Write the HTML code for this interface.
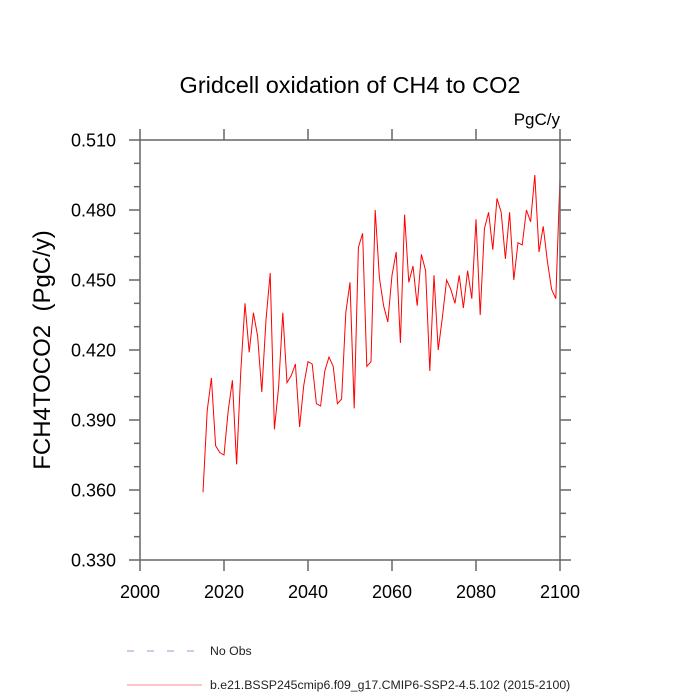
<!DOCTYPE html>
<html><head><meta charset="utf-8"><style>
body{margin:0;background:#fff}
svg{display:block;font-family:"Liberation Sans",sans-serif}
</style></head><body>
<svg id="chart" width="700" height="700">
<text x="350" y="93" text-anchor="middle" font-size="23.5">Gridcell oxidation of CH4 to CO2</text>
<text x="560" y="125" text-anchor="end" font-size="17">PgC/y</text>
<text transform="translate(50,350) rotate(-90)" text-anchor="middle" font-size="24" xml:space="preserve">FCH4TOCO2  (PgC/y)</text>
<g id="ticks"></g>
<g id="series"></g>
<rect x="140" y="140" width="420" height="420" fill="none" stroke="#666" stroke-width="1.5"/>
<line x1="127" y1="651" x2="199" y2="651" stroke="#99c" stroke-dasharray="7,13"/>
<text x="210" y="655" font-size="12.3" fill="#222">No Obs</text>
<line x1="127" y1="685" x2="202" y2="685" stroke="#f88"/>
<text x="210" y="689" font-size="12.3" fill="#222">b.e21.BSSP245cmip6.f09_g17.CMIP6-SSP2-4.5.102 (2015-2100)</text>
</svg>
<script>
const years = [];
for (let y = 2015; y <= 2100; y++) years.push(y);
const values = [0.359,0.394,0.408,0.379,0.376,0.375,0.394,0.407,0.371,0.411,
0.440,0.419,0.436,0.426,0.402,0.433,0.453,0.386,0.404,0.436,
0.406,0.409,0.414,0.387,0.405,0.415,0.414,0.397,0.396,0.411,
0.417,0.413,0.397,0.399,0.436,0.449,0.395,0.464,0.470,0.413,
0.415,0.480,0.451,0.439,0.432,0.452,0.462,0.423,0.478,0.449,
0.456,0.439,0.461,0.454,0.411,0.452,0.420,0.434,0.450,0.446,
0.440,0.452,0.438,0.454,0.442,0.476,0.435,0.472,0.479,0.463,
0.485,0.479,0.459,0.479,0.450,0.466,0.465,0.480,0.475,0.495,
0.462,0.473,0.458,0.446,0.442,0.494];
const xTicks = [2000,2020,2040,2060,2080,2100];
const yTicks = [0.330,0.360,0.390,0.420,0.450,0.480,0.510];
const xMin=2000,xMax=2100,yMin=0.330,yMax=0.510;
const L=140,R=560,T=140,B=560;
const sx=v=>L+(v-xMin)/(xMax-xMin)*(R-L);
const sy=v=>B-(v-yMin)/(yMax-yMin)*(B-T);
const NS="http://www.w3.org/2000/svg";
const tg=document.getElementById('ticks');
function ln(x1,y1,x2,y2,name){const l=document.createElementNS(NS,'line');
l.setAttribute('x1',x1);l.setAttribute('y1',y1);l.setAttribute('x2',x2);l.setAttribute('y2',y2);
l.setAttribute('stroke','#666');l.setAttribute('stroke-width','1.5');


tg.appendChild(l);}
function tx(x,y,s,anchor,name){const t=document.createElementNS(NS,'text');
t.setAttribute('x',x);t.setAttribute('y',y);t.setAttribute('text-anchor',anchor);t.setAttribute('font-size','18');t.textContent=s;


tg.appendChild(t);}
xTicks.forEach(v=>{const x=sx(v);ln(x,B,x,B+11,'x-tick');ln(x,T,x,T-11,'x-tick-top');});
for(let i=0;i<=18;i++){const v=yMin+i*0.01;const y=sy(v);const len=(i%3===0)?11:6;
ln(L,y,L-len,y,'y-tick');ln(R,y,R+len,y,'y-tick-right');}
xTicks.forEach(v=>tx(sx(v),598,String(v),'middle','x-tick-label'));
yTicks.forEach(v=>tx(116,sy(v)+6.5,v.toFixed(3),'end','y-tick-label'));
const p=document.createElementNS(NS,'polyline');
p.setAttribute('points',years.map((y,i)=>sx(y)+','+sy(values[i])).join(' '));
p.setAttribute('fill','none');p.setAttribute('stroke','#f00');p.setAttribute('stroke-width','1');


document.getElementById('series').appendChild(p);
</script>
</body></html>
